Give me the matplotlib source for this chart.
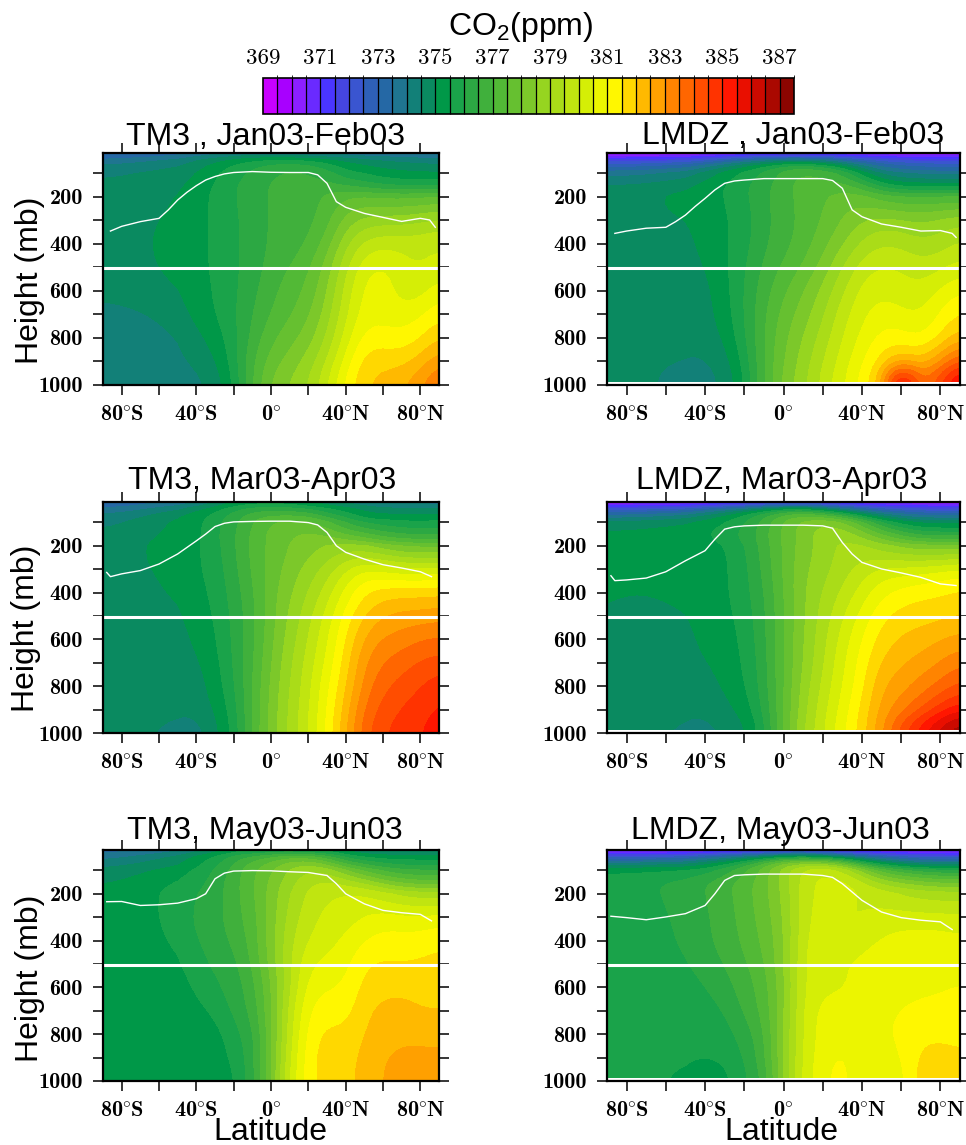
import matplotlib
matplotlib.use("Agg")
import matplotlib.pyplot as plt
import numpy as np
from matplotlib.colors import ListedColormap, BoundaryNorm

plt.rcParams['font.family'] = ['Liberation Sans', 'DejaVu Sans']
plt.rcParams['mathtext.fontset'] = 'custom'
plt.rcParams['mathtext.rm'] = 'Liberation Sans'
plt.rcParams['mathtext.bf'] = 'cmb10'
plt.rcParams['mathtext.default'] = 'rm'

lat = [-90, -70, -50, -40, -30, -20, -10, 0, 10, 20, 30, 40, 50, 60, 70, 80, 90]
pres = [13, 40, 70, 100, 150, 200, 300, 400, 500, 600, 700, 800, 900, 1000]
cbar_colors = ['#c800ff', '#a800ff', '#8c1fff', '#6a2aff', '#4a35ff', '#4545e0', '#3a55d0', '#2e60b8',
               '#2568a5', '#1f7590', '#128078', '#0a8a60', '#009848', '#1aa34a', '#2ca843', '#40b03c',
               '#52b936', '#66c030', '#7cc82a', '#96d520', '#aadc18', '#c0e510', '#d5ee06', '#ecf500',
               '#fff700', '#ffd800', '#ffb900', '#ffa000', '#ff8400', '#ff6600', '#ff4d00', '#ff3300',
               '#ff1600', '#e90f00', '#cc0a00', '#aa0800', '#8c0500']
levels = [369 + 0.5 * i for i in range(38)]
cbar_labels = [369, 371, 373, 375, 377, 379, 381, 383, 385, 387]

tm3_jf = [
 [372.5,372.7,373,373.3,373.5,373.7,373.8,373.8,373.7,373.6,373.5,373.4,373.3,373.3,373.3,373.2,373.2],
 [373.3,373.6,373.9,374.3,374.6,374.9,375.2,375.3,375.3,375.2,374.9,374.6,374.4,374.2,374.1,374,373.9],
 [373.9,374.1,374.3,374.6,375,375.4,375.7,376,376.1,376,375.6,375.1,374.9,374.7,374.6,374.5,374.5],
 [374.2,374.3,374.5,374.8,375.2,375.6,375.9,376.2,376.4,376.3,376,375.4,375.2,375,374.9,374.8,374.8],
 [374.4,374.5,374.7,375,375.3,375.8,376,376.4,376.5,376.5,376.5,376.2,376,375.7,375.6,375.6,375.6],
 [374.5,374.6,374.8,375.1,375.4,375.8,376,376.4,376.5,376.6,376.9,377.3,377.3,377.2,377.2,377.2,377.3],
 [374.6,374.7,374.9,375.1,375.4,375.7,376,376.4,376.5,376.6,377,378,378.5,378.6,378.6,378.8,379],
 [374.6,374.7,375,375.1,375.4,375.7,376,376.4,376.5,376.8,377.5,378.7,379.5,379.7,379.7,379.7,379.8],
 [374.6,374.7,374.9,375.1,375.4,375.7,376,376.5,376.8,377.2,378,379.2,380.2,380.5,380,379.7,380],
 [374.5,374.6,374.8,375.1,375.3,375.7,376.1,376.7,377,377.4,378.2,379.5,380.5,380.6,380,380,380.6],
 [374,374.2,374.5,375,375.3,375.7,376.3,376.8,377.2,377.7,378.5,379.7,380.6,380.6,380.5,380.7,381.2],
 [374,374,374.3,374.6,375,375.6,376.4,377.2,377.6,378,378.8,380,381,381,380.9,381.2,381.8],
 [374,374,374.2,374.4,374.7,375.5,376.8,377.5,378,378.5,379.3,380.5,381.6,381.7,381.6,382,382.7],
 [374,374,374,374.1,374.4,375.2,376.8,378,378.4,378.8,379.8,381,381.8,382,382.3,382.8,383.6],
]
lmdz_jf = [
 [369,369,369.1,369.2,369.3,369.4,369.5,369.6,369.6,369.5,369.4,369.3,369.2,369.2,369.1,369,369],
 [371.4,371.4,371.7,372,372.6,373.2,373.6,374,374,373.6,373,372.4,372,371.7,371.6,371.6,371.6],
 [372.7,372.8,373.2,373.7,374.3,374.8,375.4,376,376.2,375.8,375.2,374,373.3,373,372.8,372.7,372.7],
 [373.6,373.7,374,374.5,375,375.5,375.9,376.5,376.9,376.7,376.3,375,374,373.7,373.6,373.5,373.5],
 [374.3,374.4,374.7,375,375.3,375.7,376.1,376.6,377.1,377,377,376.5,375.5,375.1,375,375,375],
 [374.8,374.8,375,375.1,375.3,375.7,376.2,376.6,377,377.2,377.6,377.5,377,376.8,376.7,376.8,376.8],
 [374.7,374.6,374.8,375,375.2,375.5,376.1,376.6,376.9,377.3,377.8,378.3,378.6,378.5,378.4,378.6,378.8],
 [374.6,374.5,374.6,375,375.2,375.6,376.2,376.6,377,377.6,378.2,378.9,379.3,379.2,378.8,379,379.4],
 [374.5,374.5,374.5,374.8,375.2,375.7,376.4,376.9,377.3,378,378.8,379.6,379.9,379.8,379.6,379.7,380],
 [374.5,374.5,374.5,374.6,375.1,375.8,376.6,377.2,377.8,378.4,379.2,380,380.2,380,379.8,380.4,380.8],
 [374.5,374.5,374.5,374.6,375,375.8,376.7,377.5,378,378.7,379.6,380.2,380.6,380.4,380.3,380.9,381.4],
 [374.5,374.5,374.5,374.5,374.8,375.7,376.8,377.7,378.3,379,379.8,380.4,381,381,380.6,381.2,382],
 [374.4,374.4,374.2,374.2,374.5,375.4,376.8,377.8,378.5,379.3,380,380.8,381.4,382,381.8,382.8,384],
 [374.4,374.4,374.1,374.1,374.3,375.2,376.8,378,378.6,379.5,380.2,381,381.8,387.5,383,384.5,386],
]
tm3_ma = [
 [372.7,373,373.4,373.7,374.2,374.8,375,375,375,374.7,374.4,374.1,373.9,373.8,373.8,373.6,373.5],
 [373.3,373.6,374.2,374.6,375,375.6,375.9,376,375.9,375.7,375.3,375,374.6,374.3,374.3,374.3,374.2],
 [373.9,374.2,374.8,375,375.5,376,376.6,376.8,376.8,376.7,376,375.6,375,374.9,374.9,374.9,375],
 [374.1,374.4,375,375.1,375.6,376.1,376.8,377.3,377.5,377.5,376.9,376.2,375.6,375.5,375.4,375.2,375.4],
 [374.4,374.6,375,375.1,375.7,376.2,376.9,377.5,377.8,377.9,377.8,377.2,376.9,376.4,376.2,376.2,376.2],
 [374.6,374.8,375,375.2,375.6,376.2,377,377.4,377.8,378,378.3,378.4,378.2,377.8,377.5,377.4,377.4],
 [374.6,374.7,375,375.2,375.5,376.1,376.9,377.5,378,378.5,379,379.8,380.5,380.3,380,380,380],
 [374.5,374.6,374.9,375.1,375.4,376,376.7,377.6,378.2,378.8,379.5,380.5,381.3,381.6,381.7,381.7,381.8],
 [374.5,374.5,374.7,375,375.3,375.9,376.6,377.6,378.4,379.1,380,381,381.8,382.3,382.5,382.5,382.6],
 [374.5,374.5,374.6,374.9,375.2,375.9,376.6,377.7,378.5,379.3,380.2,381.3,382.4,382.9,383,383.3,383.4],
 [374.5,374.5,374.5,374.7,375.1,375.8,376.7,377.8,378.7,379.5,380.4,381.5,382.8,383.3,383.6,383.9,384],
 [374.5,374.5,374.5,374.5,375,375.7,376.8,377.9,378.8,379.6,380.7,381.7,383,383.7,384,384.2,384.7],
 [374.5,374.5,374.5,374.5,374.8,375.5,376.8,378,378.9,379.7,380.8,382,383.4,384,384.3,384.7,384.9],
 [374.5,374.5,373.9,373.9,374.6,375.3,376.9,378,378.9,379.8,380.9,382.2,383.7,384.3,384.6,384.8,385],
]
lmdz_ma = [
 [369.1,369.1,369.2,369.3,369.4,369.6,369.8,370,370,369.8,369.6,369.4,369.3,369.2,369.2,369.1,369.1],
 [371.9,372.1,372.4,372.9,373.4,373.9,374.8,375.4,375.6,374.7,373.6,372.8,372.3,372,371.8,371.7,371.6],
 [373.3,373.5,373.9,374.4,374.9,375.5,376.2,377,377.3,377,376.4,375.2,374.2,373.7,373.3,373.3,373.3],
 [374.5,374.6,374.8,375,375.2,375.7,376.4,377.4,378,378.3,378,377,375.7,375,374.7,374.6,374.6],
 [374.9,375,375.1,375.3,375.7,376,376.6,377.5,378,378.7,378.7,378.1,377.3,376.6,376,376,376],
 [375,375,375,375,375.2,375.7,376.5,377.4,378,378.5,379,378.9,378.4,378,377.8,377.7,377.6],
 [375,374.9,375,375,375.2,375.6,376.4,377.4,378.2,378.6,379,379.5,380,380.1,380.2,380.4,380.7],
 [374.8,374.8,375,375,375.2,375.6,376.2,377.3,378.3,378.8,379.4,380,380.7,381,381.2,381.3,381.4],
 [374.9,374.5,374.8,375,375.1,375.5,376.1,377.3,378.2,379,379.7,380.5,381.2,381.5,381.6,381.6,381.8],
 [374.6,374.4,374.6,375,375,375.4,376.1,377.3,378.3,379.1,380,380.8,381.5,381.9,382,382.3,382.5],
 [374.4,374.4,374.5,374.8,375,375.3,376,377.3,378.3,379.2,380.2,381,381.9,382.2,382.5,382.8,383.2],
 [374.4,374.4,374.4,374.5,374.9,375.2,376,377.3,378.5,379.4,380.3,381.1,382.3,382.6,383,383.4,384],
 [374.4,374.4,374.4,374.4,374.6,375,375.8,377.3,378.6,379.6,380.5,381.4,382.5,383,383.7,384.5,385],
 [374.4,374.4,374.2,374.1,374.3,374.6,375.5,377.4,378.8,379.7,380.7,381.5,382.7,384.2,385.3,386.2,387.2],
]
tm3_mj = [
 [373,373.2,373.6,374,374.4,375,375,375.2,375.2,375,375,374.7,374.3,374.2,374,374,374],
 [373.5,373.9,374.5,375,375.4,376,376.4,376.7,377.2,377,376.4,375.5,375.1,375,375,375,374.9],
 [374,374.3,374.7,375.1,375.6,376.2,377,377.4,378,378.2,377.7,376.6,376.2,375.8,375.6,375.6,375.6],
 [374.4,374.7,375,375.4,375.8,376.5,377.2,377.7,378.4,378.8,378.6,377.8,377,376.6,376.3,376.2,376.2],
 [374.7,375,375.4,375.6,376,376.6,377.2,377.9,378.6,379.2,379.5,379.1,378.7,378,377.6,377.4,377.4],
 [375,375.1,375.5,375.8,376,376.6,377.2,378,378.8,379.4,379.7,379.9,379.9,379.5,379.2,379,379],
 [375,375,375.6,375.9,376.1,376.6,377,378,379,379.6,380,380,380.3,380.6,380.5,380.5,380.6],
 [375,375,375.4,375.8,376,376.4,376.9,378.1,379.2,379.8,380.1,380.4,380.8,381,381,381,381.2],
 [375,375,375.2,375.6,375.9,376.1,376.8,378,379.2,380.3,380.4,380.6,381.3,381.4,381.3,381.4,381.5],
 [375,375,375,375.4,375.7,376,376.5,377.7,379.2,380.5,380.8,380.8,381.5,381.6,381.7,381.6,381.6],
 [375,375,375,375.1,375.4,375.9,376.4,377.7,379.5,380.9,381.1,381,381.7,382,382,381.8,381.8],
 [375,375,375,375,375,375.6,376,377.6,379.6,381,381.5,381.4,381.8,382.1,382.2,382.1,382.1],
 [375,375,375,375,375,375.4,376,377.6,379.8,381.2,381.6,381.5,382,382.3,382.4,382.5,382.4],
 [375,375,375,375,375,375.1,376,377.7,380,381.1,381.6,381.6,382,382.3,382.6,382.7,382.9],
]
lmdz_mj = [
 [369.3,369.3,369.3,369.4,369.5,369.7,369.9,370.2,370.2,370,369.8,369.6,369.4,369.3,369.3,369.3,369.2],
 [371.9,372,372.4,372.9,373.4,373.9,374.6,375.3,375.6,375,374.3,373.3,372.7,372.3,372,371.9,371.8],
 [374,374,374.2,374.7,375.2,376,377,378,378.4,378.4,377.8,376,375,374.5,374,374,374],
 [375.3,375.3,375.4,375.5,376,376.7,377.5,378.6,379.5,379.8,379.4,378.2,377,376.4,376,375.8,375.8],
 [375.5,375.7,376,376.3,376.7,377,377.6,378.4,379.6,380,380,379.5,378.6,378.3,378,377.8,377.8],
 [375.5,375.7,376,376.3,376.6,377.1,377.6,378.4,379.6,380,380.1,379.8,379.7,379.3,379.1,379,379],
 [375.5,375.5,376,376.2,376.5,377,377.5,378.2,379.7,380.1,379.6,379.7,379.9,380,380,380,380],
 [375.5,375.5,375.9,376.2,376.5,376.9,377.4,378.1,379.8,380.2,380.1,380.1,380.4,380.6,380.6,380.6,380.4],
 [375.5,375.5,375.8,376,376.3,376.7,377.2,378.2,379.9,380.3,380.3,380.4,380.6,380.6,380.6,380.7,380.7],
 [375.5,375.5,375.5,375.8,376.1,376.5,377,378,379.9,380.2,380.1,380.5,380.6,380.6,380.6,380.7,380.8],
 [375.5,375.5,375.5,375.5,375.8,376.4,376.9,378.2,380,380.5,380.6,380.6,380.6,380.8,381,381,381],
 [375.5,375.5,375.5,375.5,375.5,376,376.6,378.2,380,380.5,380.6,380.6,380.7,381,381.2,381.1,381.1],
 [375.5,375.5,375.5,375.4,375.5,375.7,376.6,378.3,380,380.6,381,380.4,380.3,380.8,381.4,381.6,381.4],
 [375.5,375.5,375.1,374.5,375.1,375.7,376.2,378.3,380.1,380.6,381.2,380.2,380.4,380.5,381.6,382,381.5],
]

trop_lat_tm3_jf = [-86,-80,-70,-60,-55,-50,-45,-40,-35,-30,-25,-20,-10,0,10,20,25,30,35,40,50,60,70,80,85,88]
trop_tm3_jf = [345,325,305,291,255,213,180,152,128,113,102,96,92,95,96,96,106,142,220,244,270,287,304,291,298,329]
trop_lat_lmdz_jf = [-86,-80,-70,-60,-55,-50,-45,-40,-35,-30,-25,-20,-10,0,10,20,25,30,35,40,50,60,70,80,86,88]
trop_lmdz_jf = [355,345,333,329,305,277,240,206,170,142,132,128,122,122,122,122,130,163,255,284,315,329,345,343,355,372]
trop_lat_tm3_ma = [-88,-86,-80,-70,-60,-50,-40,-35,-30,-25,-20,-10,0,10,20,25,30,35,40,50,60,70,80,86]
trop_tm3_ma = [314,332,320,306,278,235,179,150,118,104,98,96,95,95,101,111,143,200,228,257,281,295,311,332]
trop_lat_lmdz_ma = [-88,-86,-80,-70,-60,-50,-40,-35,-30,-25,-20,-10,0,10,20,25,30,35,40,50,60,70,80,88]
trop_lmdz_ma = [328,349,346,338,311,264,221,172,129,119,115,112,112,112,115,125,186,235,271,299,316,335,363,370]
trop_lat_tm3_mj = [-88,-80,-70,-60,-50,-40,-35,-30,-25,-20,-10,0,10,20,30,35,40,50,60,70,80,86]
trop_tm3_mj = [234,233,250,247,240,221,200,136,112,103,101,102,106,109,122,157,200,243,271,281,288,316]
trop_lat_lmdz_mj = [-88,-80,-70,-60,-50,-40,-35,-30,-25,-20,-10,0,10,20,25,30,40,50,60,70,80,86]
trop_lmdz_mj = [296,302,311,299,285,250,200,143,122,119,116,116,116,122,130,157,228,278,302,313,320,353]

titles = ['TM3 , Jan03-Feb03', 'LMDZ , Jan03-Feb03', 'TM3, Mar03-Apr03', 'LMDZ, Mar03-Apr03',
          'TM3, May03-Jun03', 'LMDZ, May03-Jun03']
fields = [tm3_jf, lmdz_jf, tm3_ma, lmdz_ma, tm3_mj, lmdz_mj]
trop_lats = [trop_lat_tm3_jf, trop_lat_lmdz_jf, trop_lat_tm3_ma, trop_lat_lmdz_ma, trop_lat_tm3_mj, trop_lat_lmdz_mj]
trops = [trop_tm3_jf, trop_lmdz_jf, trop_tm3_ma, trop_lmdz_ma, trop_tm3_mj, trop_lmdz_mj]
xtick_vals = [-80, -60, -40, -20, 0, 20, 40, 60, 80]
xtick_text = [r'$\mathbf{80}^{\circ}\mathbf{S}$', '', r'$\mathbf{40}^{\circ}\mathbf{S}$', '',
              r'$\mathbf{0}^{\circ}$', '', r'$\mathbf{40}^{\circ}\mathbf{N}$', '', r'$\mathbf{80}^{\circ}\mathbf{N}$']
ytick_vals = [100, 200, 300, 400, 500, 600, 700, 800, 900, 1000]
ytick_text = ['', '200', '', '400', '', '600', '', '800', '', '1000']

W, H = 966, 1145
fig = plt.figure(figsize=(W / 100, H / 100), dpi=100, facecolor='white')
def box(x0, y0, x1, y1):
    return [x0 / W, 1 - y1 / H, (x1 - x0) / W, (y1 - y0) / H]
def put(x, y, s, **kw):
    kw.setdefault('ha', 'center')
    kw.setdefault('va', 'center')
    fig.text(x / W, 1 - y / H, s, **kw)

def soften(a, n=4):
    # finer drawing grid with a light blur, so the filled contours lose the kinks of the coarse table
    a = np.asarray(a, dtype=float)
    ni, nj = a.shape
    ii = np.linspace(0, ni - 1, (ni - 1) * n + 1)
    jj = np.linspace(0, nj - 1, (nj - 1) * n + 1)
    b = np.array([np.interp(jj, np.arange(nj), row) for row in a])
    b = np.array([np.interp(ii, np.arange(ni), col) for col in b.T]).T
    k = np.ones(n + 1) / (n + 1)
    for _ in range(2):
        b = np.array([np.convolve(np.pad(r, n, mode='edge'), k, mode='same')[n:-n] for r in b])
        b = np.array([np.convolve(np.pad(c, n, mode='edge'), k, mode='same')[n:-n] for c in b.T]).T
    return ii, jj, b

cmap = ListedColormap(cbar_colors)
cmap.set_under(cbar_colors[0])
cmap.set_over(cbar_colors[-1])
norm = BoundaryNorm(levels, cmap.N)
serif_b = ['cmb10', 'Liberation Serif', 'DejaVu Serif']
serif_r = ['cmr10', 'Liberation Serif', 'DejaVu Serif']

col_x = [(103, 439), (607, 960)]
row_y = [(153, 385), (502, 733), (850, 1081)]
title_pos = [(266, 137), (793, 136), (262, 481), (782, 481), (265, 831), (780, 831)]
ylab_pos = [(30, 280), (26, 628), (30, 978)]
BIN_READ_OFFSET = 0.2  # readings were taken near each colour band's lower bound

for i in range(6):
    r, c = divmod(i, 2)
    ax = fig.add_axes(box(col_x[c][0], row_y[r][0], col_x[c][1], row_y[r][1]))
    ax.set_facecolor('#dddddd' if c == 0 else 'white')
    P = np.array(pres, dtype=float)
    if c == 0:
        P[0] = 17
    else:
        P[-1] = 985
    ii, jj, Z = soften(np.array(fields[i]) + BIN_READ_OFFSET)
    lat_f = np.interp(jj, np.arange(len(lat)), lat)
    P_f = np.interp(ii, np.arange(len(P)), P)
    ax.contourf(lat_f, P_f, Z, levels=levels, cmap=cmap, norm=norm, extend='both')
    ax.plot(trop_lats[i], trops[i], color='white', lw=1.0)
    ax.set_xlim(-90, 90)
    ax.set_ylim(1000, 13)
    ax.axhline(503, xmin=-0.03, xmax=1.03, color='white', lw=2.2, clip_on=False, zorder=5)
    ax.set_xticks(xtick_vals)
    ax.set_xticklabels(xtick_text, fontsize=16)
    ax.set_yticks(ytick_vals)
    ax.set_yticklabels(ytick_text, fontfamily=serif_b, fontsize=16)
    ax.tick_params(axis='both', which='major', direction='out', length=7.5, width=1.1,
                   top=True, right=True, color='black')
    ax.tick_params(axis='x', pad=7)
    ax.tick_params(axis='y', pad=7)
    for s in ax.spines.values():
        s.set_linewidth(1.6)
        s.set_zorder(6)
    put(title_pos[i][0], title_pos[i][1], titles[i], fontsize=23, color='black', zorder=10)

for x, y in ylab_pos:
    put(x, y, 'Height (mb)', fontsize=23, rotation=90)
put(270, 1132, 'Latitude', fontsize=23)
put(781, 1132, 'Latitude', fontsize=23)

cax = fig.add_axes(box(263, 78, 794, 114))
cb = fig.colorbar(plt.cm.ScalarMappable(norm=norm, cmap=cmap), cax=cax, orientation='horizontal',
                  drawedges=True, ticks=cbar_labels, spacing='uniform')
cb.dividers.set_color('black')
cb.dividers.set_linewidth(0.9)
cb.outline.set_linewidth(1.2)
cax.xaxis.set_ticks_position('top')
cax.tick_params(axis='x', length=0, pad=7)
cax.set_xticklabels([str(v) for v in cbar_labels], fontfamily=serif_r, fontsize=16.5)
put(521, 27, 'CO$_2$(ppm)', fontsize=23)

fig.savefig('out.png', dpi=100)
